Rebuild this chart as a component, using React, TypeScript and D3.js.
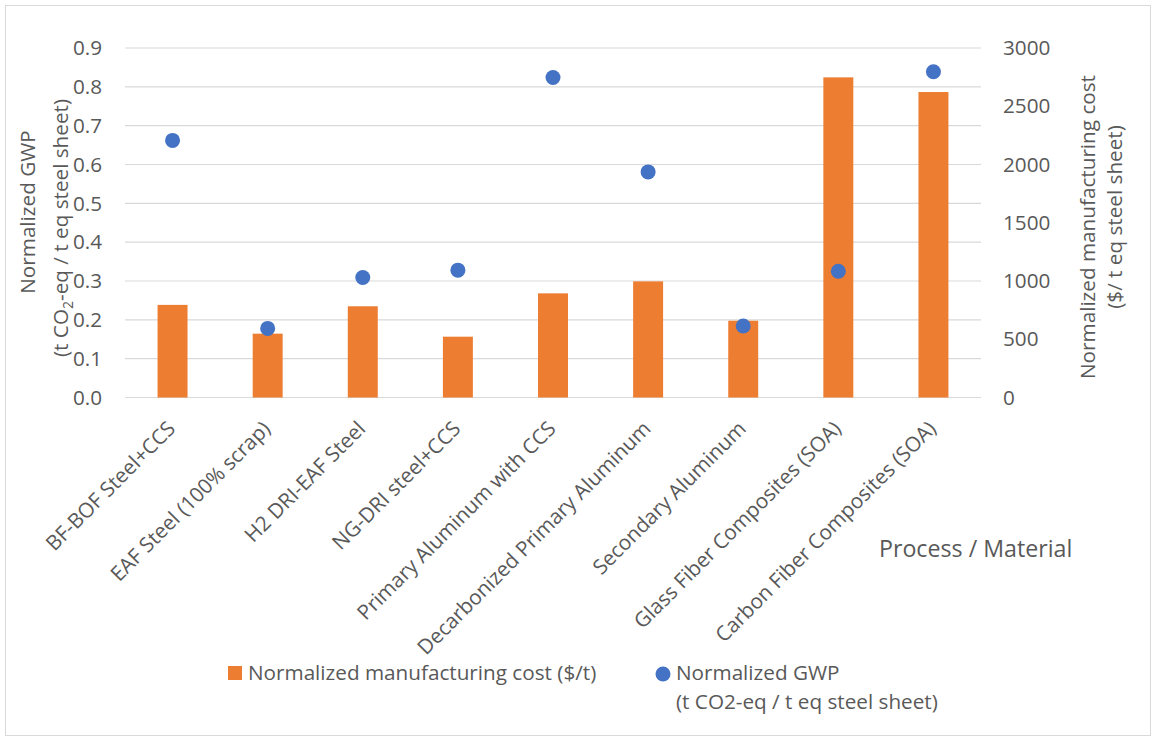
import React from "react";
import * as d3 from "d3";

// Processes / materials compared
const categories = [
  "BF-BOF Steel+CCS",
  "EAF Steel (100% scrap)",
  "H2 DRI-EAF Steel",
  "NG-DRI steel+CCS",
  "Primary Aluminum with CCS",
  "Decarbonized Primary Aluminum",
  "Secondary Aluminum",
  "Glass Fiber Composites (SOA)",
  "Carbon Fiber Composites (SOA)",
];

// Normalized manufacturing cost ($ / t eq steel sheet) — bars, right axis
const costValues = [795, 548, 783, 522, 894, 997, 659, 2748, 2622];

// Normalized GWP (t CO2-eq / t eq steel sheet) — dots, left axis
const gwpValues = [0.662, 0.178, 0.309, 0.328, 0.824, 0.581, 0.184, 0.325, 0.839];

const leftTicks = [0, 0.1, 0.2, 0.3, 0.4, 0.5, 0.6, 0.7, 0.8, 0.9];
const rightTicks = [0, 500, 1000, 1500, 2000, 2500, 3000];

const W = 1153;
const H = 738;
const plot = { left: 125, right: 981, top: 48, bottom: 397.5 };

const ORANGE = "#ED7D31";
const BLUE = "#4472C4";
const GRID = "#D9D9D9";
const TEXT = "#595959";
const FONT = "'Open Sans', 'Noto Sans', sans-serif";
const FS = 20.7;

export default function App() {
  const x = d3
    .scaleBand<string>()
    .domain(categories)
    .range([plot.left, plot.right])
    .paddingInner(0.685)
    .paddingOuter(0.3425);
  const yLeft = d3.scaleLinear().domain([0, 0.9]).range([plot.bottom, plot.top]);
  const yRight = d3.scaleLinear().domain([0, 3000]).range([plot.bottom, plot.top]);
  const fmtLeft = d3.format(".1f");

  return (
    <div style={{ position: "fixed", left: 0, top: 0 }}>
      <svg width={W} height={H} style={{ display: "block", fontFamily: FONT }}>
        <rect x={0} y={0} width={W} height={H} fill="#fff" />
        <rect x={5.5} y={5.5} width={W - 8} height={H - 8} fill="none" stroke={GRID} strokeWidth={1} />

        {/* gridlines */}
        {leftTicks.map((t) => (
          <line
            key={"g" + t}
            x1={plot.left}
            x2={plot.right}
            y1={yLeft(t)}
            y2={yLeft(t)}
            stroke={GRID}
            strokeWidth={1.2}
          />
        ))}

        {/* left tick labels */}
        {leftTicks.map((t) => (
          <text
            key={"l" + t}
            x={102}
            y={yLeft(t)}
            dy="0.35em"
            textAnchor="end"
            fontSize={FS}
            fill={TEXT}
          >
            {fmtLeft(t)}
          </text>
        ))}

        {/* right tick labels */}
        {rightTicks.map((t) => (
          <text
            key={"r" + t}
            x={1003}
            y={yRight(t)}
            dy="0.35em"
            textAnchor="start"
            fontSize={FS}
            fill={TEXT}
          >
            {t}
          </text>
        ))}

        {/* cost bars */}
        {categories.map((c, i) => (
          <rect
            key={"b" + c}
            x={x(c)!}
            y={yRight(costValues[i])}
            width={x.bandwidth()}
            height={plot.bottom - yRight(costValues[i])}
            fill={ORANGE}
          />
        ))}

        {/* GWP dots */}
        {categories.map((c, i) => (
          <circle
            key={"d" + c}
            cx={x(c)! + x.bandwidth() / 2}
            cy={yLeft(gwpValues[i])}
            r={7.5}
            fill={BLUE}
          />
        ))}

        {/* category labels */}
        {categories.map((c) => {
          const cx = x(c)! + x.bandwidth() / 2;
          return (
            <text
              key={"x" + c}
              transform={`translate(${cx + 4},${430}) rotate(-45)`}
              textAnchor="end"
              fontSize={FS}
              fill={TEXT}
            >
              {c}
            </text>
          );
        })}

        {/* left axis title */}
        <text
          transform={`translate(35,212) rotate(-90)`}
          textAnchor="middle"
          fontSize={FS}
          fill={TEXT}
        >
          Normalized GWP
        </text>
        <text
          transform={`translate(68,228) rotate(-90)`}
          textAnchor="middle"
          fontSize={FS}
          fill={TEXT}
        >
          (t CO
          <tspan fontSize={14} dy={5}>
            2
          </tspan>
          <tspan dy={-5}>-eq / t eq steel sheet)</tspan>
        </text>

        {/* right axis title */}
        <text
          transform={`translate(1095,227) rotate(-90)`}
          textAnchor="middle"
          fontSize={FS}
          fill={TEXT}
        >
          Normalized manufacturing cost
        </text>
        <text
          transform={`translate(1122,217) rotate(-90)`}
          textAnchor="middle"
          fontSize={FS}
          fill={TEXT}
        >
          ($/ t eq steel sheet)
        </text>

        {/* x axis title */}
        <text x={879} y={557} fontSize={23.2} fill={TEXT}>
          Process / Material
        </text>

        {/* legend */}
        <rect x={228} y={666} width={14} height={14} fill={ORANGE} />
        <text x={248} y={680} fontSize={FS} fill={TEXT}>
          Normalized manufacturing cost ($/t)
        </text>
        <circle cx={663} cy={674} r={7.5} fill={BLUE} />
        <text x={676} y={680} fontSize={FS} fill={TEXT}>
          Normalized GWP
        </text>
        <text x={676} y={709} fontSize={FS} fill={TEXT}>
          (t CO2-eq / t eq steel sheet)
        </text>
      </svg>
    </div>
  );
}
